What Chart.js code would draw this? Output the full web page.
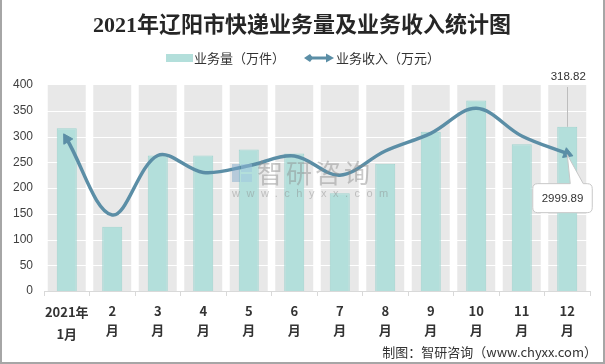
<!DOCTYPE html>
<html>
<head>
<meta charset="utf-8">
<script src="https://cdn.jsdelivr.net/npm/chart.js@4"></script>
<style>
html,body{margin:0;padding:0;background:#fff;}
#wrap{width:605px;height:364px;position:relative;}
</style>
</head>
<body>
<div id="wrap"><canvas id="c" width="605" height="364"></canvas></div>
<script>
// ---- data ----
const months = [["2021年","1月"],["2","月"],["3","月"],["4","月"],["5","月"],["6","月"],["7","月"],["8","月"],["9","月"],["10","月"],["11","月"],["12","月"]];
const volume = [316, 125, 263, 263, 275, 267, 190, 247, 309, 370, 285, 318.82];      // 业务量（万件）
const revenue = [3320, 1660, 2960, 2590, 2737, 2950, 2531, 3058, 3444, 3991, 3386, 2999.89]; // 业务收入（万元）
const yMax = 400;
const yStep = 50;
const bands = months.map(() => yMax);

const title = "2021年辽阳市快递业务量及业务收入统计图";
const legendBar = "业务量（万件）";
const legendLine = "业务收入（万元）";
const footer = "制图：智研咨询（www.chyxx.com）";
const topLabel = "318.82";
const calloutLabel = "2999.89";

const TEAL = '#b3dfdb';
const TEAL_BORDER = '#a0d5d0';
const LINE = '#5b8ea6';
const GRAY = '#e8e8e8';
const CJK = '"Noto Sans CJK SC","Noto Sans",sans-serif';

const gridPlugin = {
  id: 'whiteGrid',
  afterDatasetDraw(chart, args) {
    if (args.index !== 2) return;
    const ctx = chart.ctx, y = chart.scales.y, a = chart.chartArea;
    ctx.save();
    ctx.strokeStyle = '#ffffff';
    ctx.lineWidth = 1;
    for (let v = yStep; v < yMax; v += yStep) {
      const py = Math.round(y.getPixelForValue(v)) + 0.5;
      ctx.beginPath(); ctx.moveTo(a.left, py); ctx.lineTo(a.right, py); ctx.stroke();
    }
    ctx.restore();
  }
};

const decoPlugin = {
  id: 'deco',
  afterDatasetsDraw(chart) {
    const ctx = chart.ctx;
    const xs = chart.scales.x, ys = chart.scales.y, y1 = chart.scales.y1;
    const last = months.length - 1;
    const px = xs.getPixelForValue(last);
    const barTop = ys.getPixelForValue(volume[last]);
    const ly = y1.getPixelForValue(revenue[last]);
    ctx.save();
    // watermark
    ctx.globalAlpha = 0.45;
    ctx.fillStyle = '#7aa7c9';
    ctx.fillRect(232, 164, 8, 18);
    ctx.fillStyle = '#9cc4e0';
    ctx.fillRect(241, 164, 11, 8);
    ctx.fillRect(241, 174, 11, 8);
    ctx.fillStyle = '#8a8a8a';
    ctx.font = '26px ' + CJK;
    ctx.textBaseline = 'middle';
    ctx.textAlign = 'left';
    try { ctx.letterSpacing = '3px'; } catch(e) {}
    ctx.fillText('智研咨询', 257, 173);
    ctx.font = '11px "Liberation Sans",sans-serif';
    try { ctx.letterSpacing = '6.5px'; } catch(e) {}
    ctx.fillText('www.chyxx.com', 232, 194);
    try { ctx.letterSpacing = '0px'; } catch(e) {}
    ctx.globalAlpha = 1;
    // leader line + top label
    ctx.strokeStyle = '#bdbdbd';
    ctx.lineWidth = 1;
    ctx.beginPath();
    ctx.moveTo(Math.round(px) + 0.5, 87);
    ctx.lineTo(Math.round(px) + 0.5, barTop);
    ctx.stroke();
    ctx.fillStyle = '#333';
    ctx.font = '11.5px "Liberation Sans",sans-serif';
    ctx.textAlign = 'center';
    ctx.fillText(topLabel, px + 1, 77);
    // callout
    const L = px - 34.5, R = px + 25, T = ly + 30, B = ly + 59, r = 5;
    ctx.beginPath();
    ctx.moveTo(L + r, T);
    ctx.lineTo(px + 3, T);
    ctx.lineTo(px, ly + 1);
    ctx.lineTo(px + 16, T);
    ctx.lineTo(R - r, T);
    ctx.quadraticCurveTo(R, T, R, T + r);
    ctx.lineTo(R, B - r);
    ctx.quadraticCurveTo(R, B, R - r, B);
    ctx.lineTo(L + r, B);
    ctx.quadraticCurveTo(L, B, L, B - r);
    ctx.lineTo(L, T + r);
    ctx.quadraticCurveTo(L, T, L + r, T);
    ctx.closePath();
    ctx.fillStyle = '#ffffff';
    ctx.fill();
    ctx.strokeStyle = '#c8c8c8';
    ctx.stroke();
    ctx.fillStyle = '#333';
    ctx.fillText(calloutLabel, (L + R) / 2, (T + B) / 2 + 0.5);
    ctx.restore();
  },
  afterDraw(chart) {
    const ctx = chart.ctx;
    ctx.save();
    // title
    ctx.fillStyle = '#262626';
    ctx.textAlign = 'center';
    ctx.textBaseline = 'middle';
    ctx.font = 'bold 22px "Liberation Serif",' + CJK;
    ctx.fillText(title, 302, 26);
    // legend
    ctx.fillStyle = TEAL;
    ctx.fillRect(166, 54, 27, 8);
    ctx.fillStyle = '#333';
    ctx.font = '13px ' + CJK;
    ctx.textAlign = 'left';
    ctx.fillText(legendBar, 194, 58);
    ctx.strokeStyle = LINE; ctx.fillStyle = LINE; ctx.lineWidth = 3;
    ctx.beginPath(); ctx.moveTo(308, 58); ctx.lineTo(329, 58); ctx.stroke();
    ctx.beginPath(); ctx.moveTo(304, 58); ctx.lineTo(310, 54); ctx.lineTo(313, 58); ctx.lineTo(310, 62); ctx.closePath(); ctx.fill();
    ctx.beginPath(); ctx.moveTo(334, 58); ctx.lineTo(326, 53.5); ctx.lineTo(326, 62.5); ctx.closePath(); ctx.fill();
    ctx.fillStyle = '#333';
    ctx.fillText(legendLine, 336, 58);
    // footer
    ctx.textAlign = 'right';
    ctx.font = '13px ' + CJK;
    ctx.fillText(footer, 597, 352);
    // border
    ctx.fillStyle = '#a6a6a6';
    ctx.fillRect(0, 0, 2, 364);
    ctx.fillRect(603, 0, 2, 364);
    ctx.fillRect(0, 362, 605, 2);
    ctx.restore();
  }
};

function endRotation(ctx) {
  const i = ctx.dataIndex, n = revenue.length;
  const c = ctx.chart, xs = c.scales.x, ys = c.scales.y1;
  if (!xs || !ys) return 0;
  let a, b;
  if (i === 0) { a = 0; b = 1; } else { a = n - 1; b = n - 2; }
  const dx = xs.getPixelForValue(a) - xs.getPixelForValue(b);
  const dy = ys.getPixelForValue(revenue[a]) - ys.getPixelForValue(revenue[b]);
  return Math.atan2(dx, -dy) * 180 / Math.PI;
}

new Chart(document.getElementById('c'), {
  type: 'bar',
  data: {
    labels: months,
    datasets: [
      {
        type: 'line', label: legendLine, data: revenue, yAxisID: 'y1',
        borderColor: LINE, backgroundColor: LINE, borderWidth: 3.5,
        tension: 0.35, fill: false, order: 0,
        pointStyle: 'triangle',
        pointRadius: ctx => (ctx.dataIndex === 0 || ctx.dataIndex === revenue.length - 1) ? 6 : 0,
        pointRotation: endRotation,
        pointBackgroundColor: LINE, pointBorderColor: LINE, pointBorderWidth: 1
      },
      {
        label: legendBar, data: volume, yAxisID: 'y',
        backgroundColor: TEAL, borderColor: TEAL_BORDER, borderWidth: 1,
        barPercentage: 0.44, categoryPercentage: 1, grouped: false, order: 1
      },
      {
        label: 'bg', data: bands, yAxisID: 'y',
        backgroundColor: GRAY, borderWidth: 0,
        barPercentage: 0.835, categoryPercentage: 1, grouped: false, order: 2
      }
    ]
  },
  options: {
    responsive: false,
    animation: false,
    devicePixelRatio: 1,
    layout: { padding: { top: 85, left: 0, right: 15, bottom: 0 } },
    plugins: { legend: { display: false }, title: { display: false }, tooltip: { enabled: false } },
    scales: {
      x: {
        offset: true,
        grid: { offset: true, drawOnChartArea: false, color: '#d9d9d9', tickLength: 5 },
        border: { color: '#d9d9d9' },
        ticks: {
          color: '#333', padding: 5, maxRotation: 0, autoSkip: false,
          font: ctx => ({ family: CJK, size: 13, weight: 'bold', lineHeight: ctx.index === 0 ? 1.7 : 1.5 })
        },
        afterFit: s => { s.height = 73; }
      },
      y: {
        min: 0, max: yMax,
        ticks: { stepSize: yStep, color: '#404040', padding: 11, font: { family: '"Liberation Sans",sans-serif', size: 12 } },
        grid: { display: false, drawTicks: false },
        border: { display: false },
        afterFit: s => { s.width = 44; }
      },
      y1: { display: false, min: 0, max: 4500 }
    }
  },
  plugins: [gridPlugin, decoPlugin]
});
</script>
</body>
</html>
